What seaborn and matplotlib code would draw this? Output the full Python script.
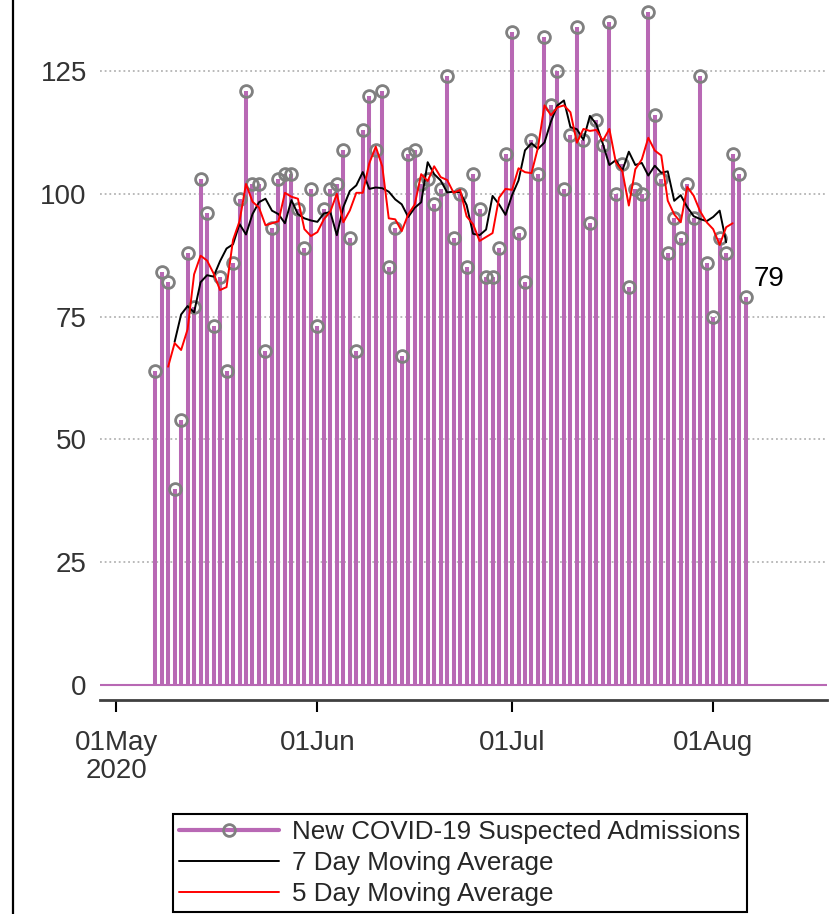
import pandas as pd
import matplotlib.pyplot as plt
import numpy as np
import seaborn as sns
from matplotlib.lines import Line2D

# Daily new suspected admissions (07May - 06Aug 2020)
may = [64, 84, 82, 40, 54, 88, 77, 103, 96, 73, 83, 64, 86, 99, 121, 102, 102,
       68, 93, 103, 104, 104, 97, 89, 101]
jun = [73, 97, 101, 102, 109, 91, 68, 113, 120, 109, 121, 85, 93, 67, 108, 109,
       102, 103, 98, 101, 124, 91, 100, 85, 104, 97, 83, 83, 89, 108]
jul = [133, 92, 82, 111, 104, 132, 118, 125, 101, 112, 134, 111, 94, 115, 110,
       135, 100, 106, 81, 101, 100, 137, 116, 103, 88, 95, 91, 102, 95, 124, 86]
aug = [75, 91, 88, 108, 104, 79]

first_day = "2020-05-07"
y_ticks = [0, 25, 50, 75, 100, 125]
x_tick_dates = ["2020-05-01", "2020-06-01", "2020-07-01", "2020-08-01"]
x_tick_labels = ["01May\n2020", "01Jun", "01Jul", "01Aug"]

df = pd.DataFrame({"admissions": may + jun + jul + aug})
df["date"] = pd.date_range(first_day, periods=len(df), freq="D")
# centred moving averages, as in the legend
df["ma7"] = df["admissions"].rolling(7, center=True).mean()
df["ma5"] = df["admissions"].rolling(5, center=True).mean()

sns.set_theme(style="white")
plt.rcParams["font.family"] = ["Liberation Sans", "DejaVu Sans"]

purple = "#B868B4"
grey = "#808080"

fig = plt.figure(figsize=(8.33, 9.14), dpi=100)
ax = fig.add_axes([100 / 833, 1 - 700 / 914, 727 / 833, 700 / 914])

ax.axhline(0, color=purple, lw=1.5, zorder=2)
ax.vlines(df["date"], 0, df["admissions"], color=purple, lw=2.9, zorder=2)
ax.plot(df["date"], df["admissions"], "o", mfc="none", mec=grey, ms=8.5, mew=2, zorder=3)
sns.lineplot(data=df, x="date", y="ma7", color="black", lw=1.4, ax=ax, zorder=4)
sns.lineplot(data=df, x="date", y="ma5", color="red", lw=1.4, ax=ax, zorder=4)

last = df.iloc[-1]
ax.annotate(str(last["admissions"]), xy=(last["date"], last["admissions"]),
            xytext=(6, 13), textcoords="offset points", fontsize=20,
            va="center", ha="left", color="black")

ax.set_xlim(pd.Timestamp("2020-04-28 12:00"), pd.Timestamp("2020-08-18 13:00"))
ax.set_ylim(-3.05, 139.45)
ax.set_yticks(y_ticks)
ax.set_yticklabels([str(t) for t in y_ticks])
ax.set_xticks(pd.to_datetime(x_tick_dates))
ax.set_xticklabels(x_tick_labels, linespacing=1.1)
ax.set_xlabel("")
ax.set_ylabel("")

ax.yaxis.grid(True, linestyle=(0, (1, 1.6)), color="#b4b4b4", lw=1.3)
ax.xaxis.grid(False)
ax.set_axisbelow(True)
for side in ["left", "top", "right"]:
    ax.spines[side].set_visible(False)
ax.spines["bottom"].set_color("#404040")
ax.spines["bottom"].set_linewidth(2)

ax.tick_params(axis="y", length=0, pad=9.5, labelsize=20, labelcolor="#333333")
ax.tick_params(axis="x", bottom=True, direction="out", length=8.6, width=1.5,
               color="black", pad=13, labelsize=20, labelcolor="#333333")

handles = [
    Line2D([], [], color=purple, lw=3, marker="o", ms=8.5, mfc="none", mec=grey, mew=2),
    Line2D([], [], color="black", lw=1.4),
    Line2D([], [], color="red", lw=1.4),
]
labels = ["New COVID-19 Suspected Admissions", "7 Day Moving Average", "5 Day Moving Average"]
leg = fig.legend(handles, labels, loc="upper left",
                 bbox_to_anchor=(172.7 / 833, 1 - 814 / 914), borderaxespad=0,
                 fontsize=18.7, frameon=True, fancybox=False, framealpha=1,
                 edgecolor="black", handlelength=3.85, handletextpad=0.5,
                 labelspacing=0.26, borderpad=0.25)
leg.get_frame().set_linewidth(1.5)

# thin black frame line on the left edge of the page
fig.add_artist(Line2D([13 / 833, 13 / 833], [0, 1], transform=fig.transFigure,
                      color="black", lw=1.6))

fig.savefig("out.png", dpi=100)
